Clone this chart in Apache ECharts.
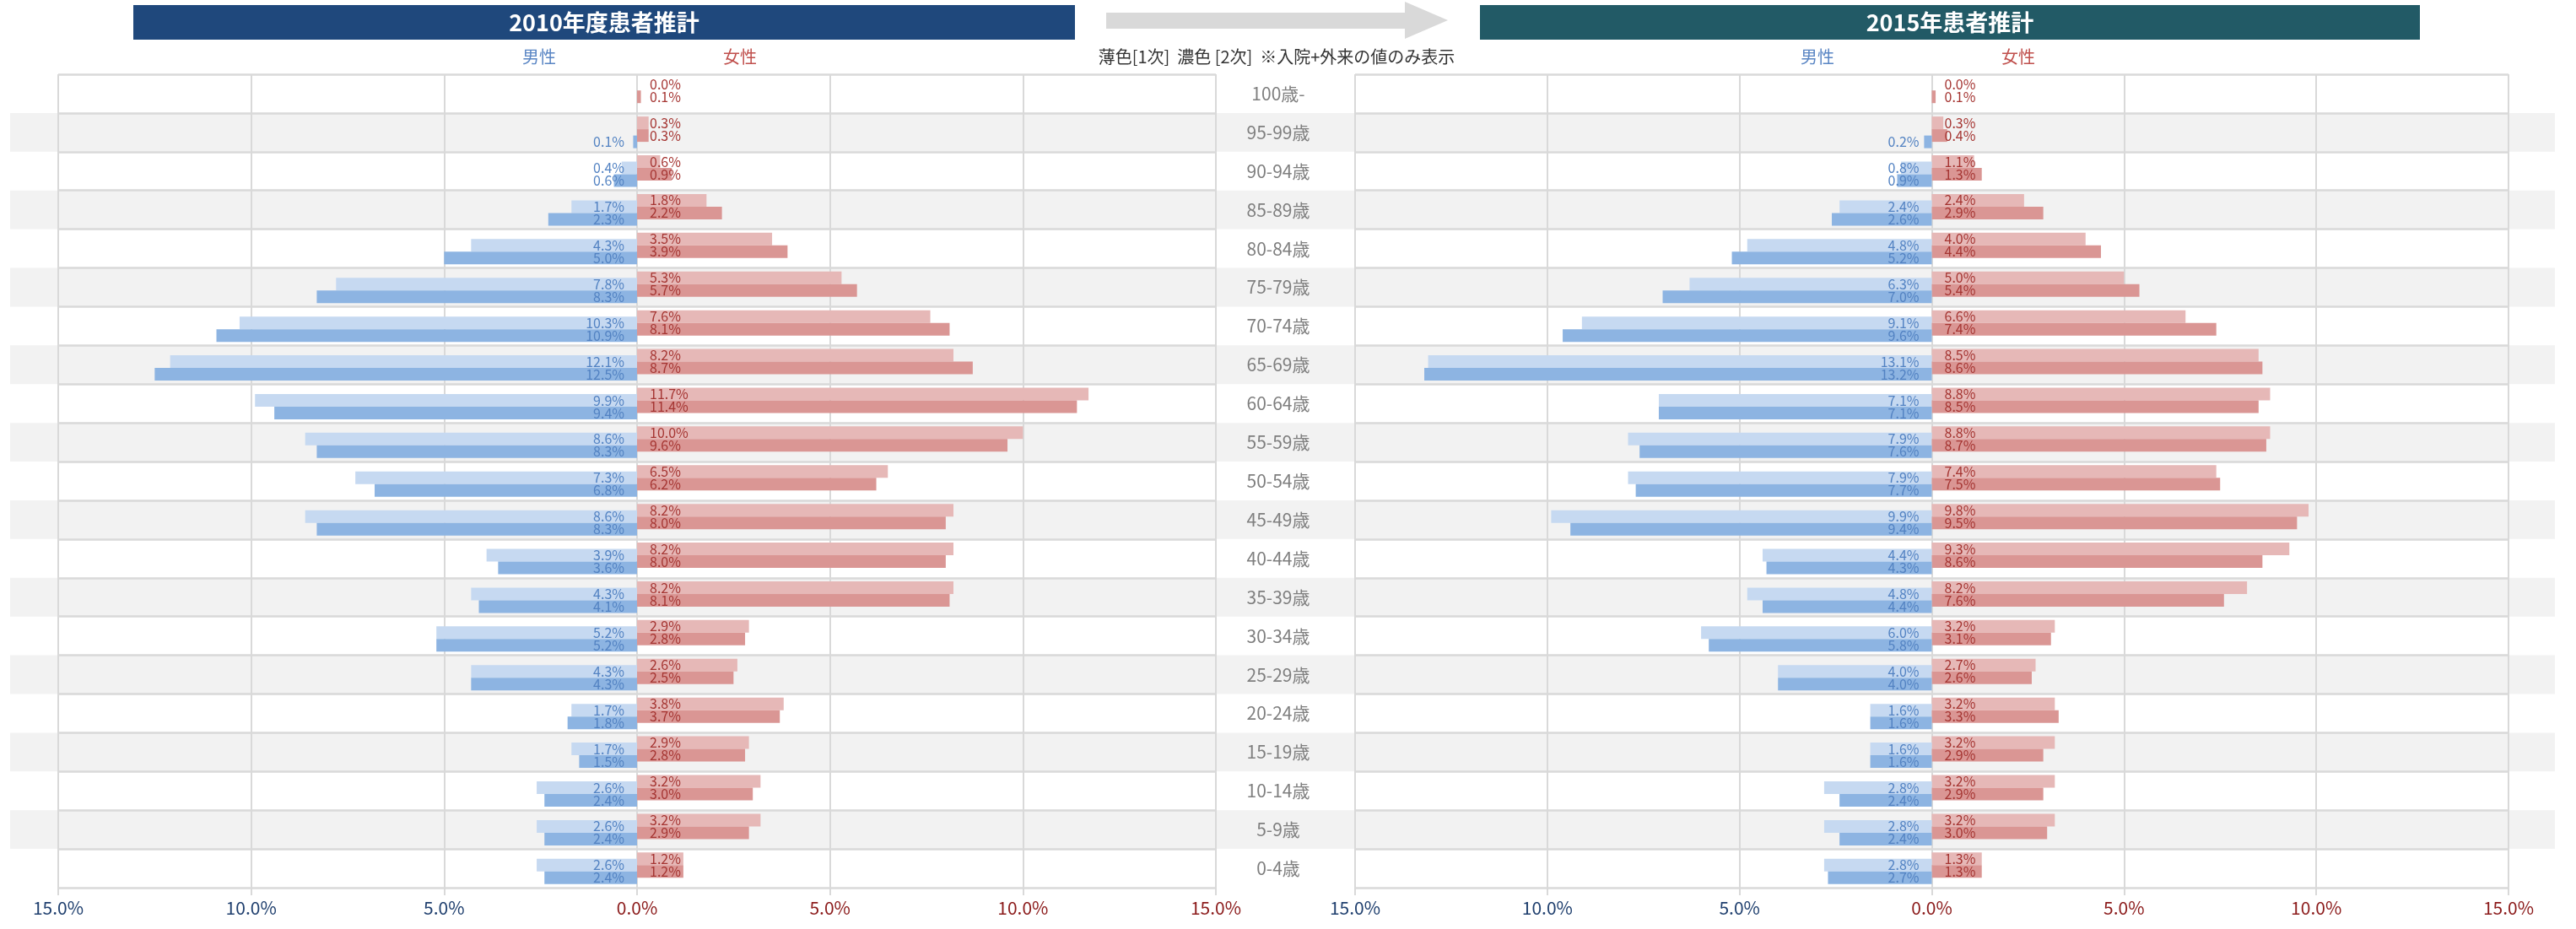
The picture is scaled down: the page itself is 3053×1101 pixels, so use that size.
<!DOCTYPE html>
<html><head><meta charset="utf-8">
<script src="https://cdn.jsdelivr.net/npm/echarts@6/dist/echarts.min.js"></script>
<style>html,body{margin:0;padding:0;background:#fff}#c{width:3053px;height:1101px}</style>
</head><body><div id="c"></div>
<script>
// ---- data ----
const ageGroups = ['100歳-','95-99歳','90-94歳','85-89歳','80-84歳','75-79歳','70-74歳','65-69歳','60-64歳','55-59歳','50-54歳','45-49歳','40-44歳','35-39歳','30-34歳','25-29歳','20-24歳','15-19歳','10-14歳','5-9歳','0-4歳'];
const titles = ['2010年度患者推計', '2015年患者推計'];
const sexLabels = ['男性', '女性'];
const noteText = '薄色[1次]  濃色 [2次]  ※入院+外来の値のみ表示';
// 2010 (percent)
const male2010Primary   = [null,null,0.4,1.7,4.3,7.8,10.3,12.1,9.9,8.6,7.3,8.6,3.9,4.3,5.2,4.3,1.7,1.7,2.6,2.6,2.6];
const male2010Secondary = [null,0.1,0.6,2.3,5.0,8.3,10.9,12.5,9.4,8.3,6.8,8.3,3.6,4.1,5.2,4.3,1.8,1.5,2.4,2.4,2.4];
const female2010Primary   = [0.0,0.3,0.6,1.8,3.5,5.3,7.6,8.2,11.7,10.0,6.5,8.2,8.2,8.2,2.9,2.6,3.8,2.9,3.2,3.2,1.2];
const female2010Secondary = [0.1,0.3,0.9,2.2,3.9,5.7,8.1,8.7,11.4,9.6,6.2,8.0,8.0,8.1,2.8,2.5,3.7,2.8,3.0,2.9,1.2];
// 2015 (percent)
const male2015Primary   = [null,null,0.8,2.4,4.8,6.3,9.1,13.1,7.1,7.9,7.9,9.9,4.4,4.8,6.0,4.0,1.6,1.6,2.8,2.8,2.8];
const male2015Secondary = [null,0.2,0.9,2.6,5.2,7.0,9.6,13.2,7.1,7.6,7.7,9.4,4.3,4.4,5.8,4.0,1.6,1.6,2.4,2.4,2.7];
const female2015Primary   = [0.0,0.3,1.1,2.4,4.0,5.0,6.6,8.5,8.8,8.8,7.4,9.8,9.3,8.2,3.2,2.7,3.2,3.2,3.2,3.2,1.3];
const female2015Secondary = [0.1,0.4,1.3,2.9,4.4,5.4,7.4,8.6,8.5,8.7,7.5,9.5,8.6,7.6,3.1,2.6,3.3,2.9,2.9,3.0,1.3];
const axisMin = -15, axisMax = 15, axisStep = 5;

// ---- style ----
const FONT = '"Noto Sans CJK JP", "Noto Sans", sans-serif';
const C = {
  maleLight:'#c6d9f1', maleDark:'#8db4e2', femLight:'#e6b8b7', femDark:'#da9694',
  maleText:'#5282c2', femText:'#a53532', grid:'#d9d9d9', band:'#f2f2f2',
  tickBlue:'#1f3f6e', tickRed:'#8b1a1a', cat:'#7f7f7f'
};
const TOP = 88, H = 964;

const chart = echarts.init(document.getElementById('c'), null, {renderer:'canvas'});

function xAxisFor(gi){
  return {
    type:'value', gridIndex:gi, min:axisMin, max:axisMax, interval:axisStep, z:1,
    axisLine:{show:false},
    axisTick:{show:true, length:9, lineStyle:{color:C.grid, width:2}},
    splitLine:{show:true, lineStyle:{color:C.grid, width:2}},
    axisLabel:{margin:14, fontFamily:FONT, fontSize:21,
      formatter:v=>Math.abs(v).toFixed(1)+'%',
      color:(v)=> (Number(v) < 0 ? C.tickBlue : C.tickRed)}
  };
}
function yAxisFor(gi, showLabels){
  return {
    type:'category', gridIndex:gi, data:ageGroups, inverse:true, z:1,
    position: showLabels ? 'right' : 'left',
    axisLine:{show:false}, axisTick:{show:false},
    splitLine:{show:true, interval:0, lineStyle:{color:C.grid, width:2.5}},
    axisLabel:{show:showLabels, margin:74, align:'center', color:C.cat, fontFamily:FONT, fontSize:21, interval:0}
  };
}
function barSeries(gi, name, values, negative, color, textColor){
  return {
    type:'bar', name, xAxisIndex:gi, yAxisIndex:gi, z:2,
    barWidth:15, barGap:'-50%',
    data: values.map(v => v == null ? null : (negative ? -v : v)),
    itemStyle:{color},
    label:{show:true, position: negative ? 'insideRight' : 'insideLeft', distance:15,
      color:textColor, fontFamily:FONT, fontSize:16,
      formatter:p => Math.abs(p.value).toFixed(1)+'%'}
  };
}
function sideSeries(gi, mP, mS, fP, fS){
  return [
    barSeries(gi, '女性1次', fP, false, C.femLight, C.femText),
    barSeries(gi, '男性1次', mP, true,  C.maleLight, C.maleText),
    barSeries(gi, '女性2次', fS, false, C.femDark, C.femText),
    barSeries(gi, '男性2次', mS, true,  C.maleDark, C.maleText)
  ];
}

function txt(x, y, text, fill, size, weight){
  return {type:'text', x, y, z:10, style:{text, fill, font:(weight||'normal')+' '+size+'px '+FONT, textAlign:'center', textVerticalAlign:'middle'}};
}

const option = {
  backgroundColor:'#ffffff',
  animation:false,
  grid:[
    {left:69, top:TOP, width:1372, height:H},
    {left:1606, top:TOP, width:1367, height:H},
    {left:12, top:TOP, width:3016, height:H}
  ],
  xAxis:[xAxisFor(0), xAxisFor(1),
    {type:'value', gridIndex:2, show:false, min:0, max:1}],
  yAxis:[yAxisFor(0,true), yAxisFor(1,false),
    {type:'category', gridIndex:2, data:ageGroups, inverse:true, z:0,
     axisLine:{show:false}, axisTick:{show:false}, axisLabel:{show:false}, splitLine:{show:false},
     splitArea:{show:true, interval:0, areaStyle:{color:['rgba(255,255,255,0)', C.band]}}}],
  series:[
    ...sideSeries(0, male2010Primary, male2010Secondary, female2010Primary, female2010Secondary),
    ...sideSeries(1, male2015Primary, male2015Secondary, female2015Primary, female2015Secondary)
  ],
  graphic:[
    {type:'rect', z:5, shape:{x:158, y:6, width:1116, height:41}, style:{fill:'#1f487c'}},
    txt(716, 27, titles[0], '#ffffff', 27, 'bold'),
    {type:'rect', z:5, shape:{x:1754, y:6, width:1114, height:41}, style:{fill:'#225a66'}},
    txt(2311, 27, titles[1], '#ffffff', 27, 'bold'),
    {type:'polygon', z:5, shape:{points:[[1311,15],[1665,15],[1665,2],[1716,24],[1665,46],[1665,34],[1311,34]]}, style:{fill:'#d9d9d9'}},
    txt(639, 67, sexLabels[0], '#5a86c4', 20),
    txt(877, 67, sexLabels[1], '#c0504d', 20),
    txt(2154, 67, sexLabels[0], '#5a86c4', 20),
    txt(2392, 67, sexLabels[1], '#c0504d', 20),
    txt(1513, 67, noteText, '#333333', 20)
  ]
};
chart.setOption(option);
</script></body></html>
